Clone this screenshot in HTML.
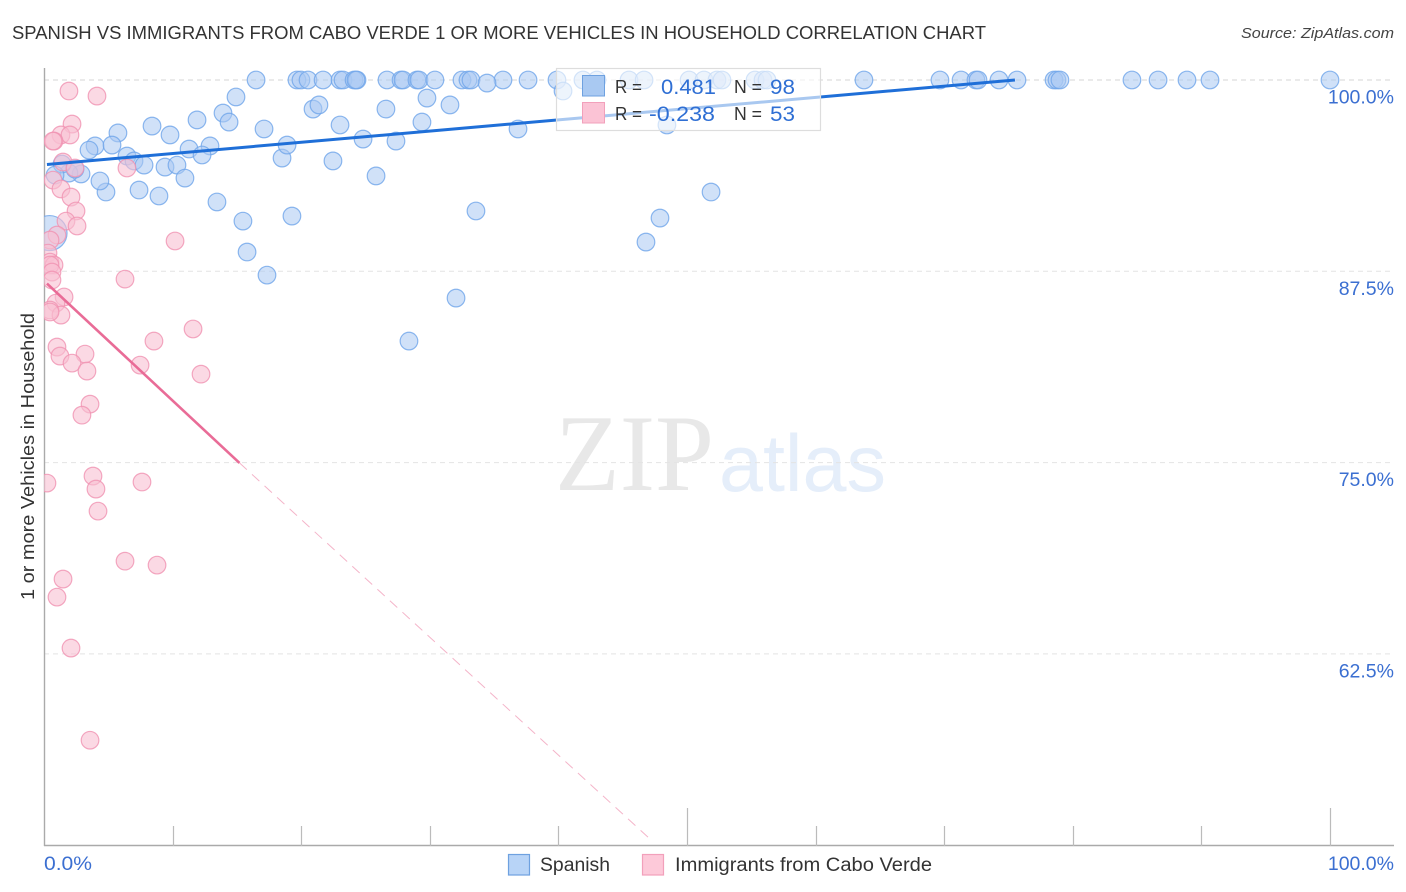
<!DOCTYPE html>
<html><head><meta charset="utf-8"><title>Spanish vs Immigrants from Cabo Verde chart</title>
<style>
html,body{margin:0;padding:0;background:#fff;width:1406px;height:892px;overflow:hidden}
svg{display:block}
text{font-family:"Liberation Sans",sans-serif}
</style></head><body>
<svg id="chart" xmlns="http://www.w3.org/2000/svg" width="1406" height="892" viewBox="0 0 1406 892">
<defs><clipPath id="plot-clip"><rect x="44" y="60" width="1360" height="786"/></clipPath></defs>
<text x="12" y="39" font-size="18" fill="#333" textLength="974" lengthAdjust="spacingAndGlyphs">SPANISH VS IMMIGRANTS FROM CABO VERDE 1 OR MORE VEHICLES IN HOUSEHOLD CORRELATION CHART</text>
<text x="1394" y="38" font-size="15" font-style="italic" fill="#444" text-anchor="end" textLength="153" lengthAdjust="spacingAndGlyphs">Source: ZipAtlas.com</text>
<text x="555" y="490" font-size="109" fill="#e8e8e8" textLength="159" lengthAdjust="spacingAndGlyphs" style="font-family:'Liberation Serif',serif">ZIP</text>
<text x="719" y="491" font-size="81" fill="#e5eefa" textLength="167" lengthAdjust="spacingAndGlyphs">atlas</text>
<g id="grid"></g>
<g id="axes"></g>
<g id="points" clip-path="url(#plot-clip)"></g>
<g id="trends"></g>
<text transform="translate(34,456.5) rotate(-90)" font-size="18.5" fill="#333" text-anchor="middle" textLength="287" lengthAdjust="spacingAndGlyphs">1 or more Vehicles in Household</text>
<g>
<rect x="556.5" y="68.5" width="264" height="62" fill="#fff" fill-opacity="0.62" stroke="#ddd" stroke-width="1.2"/>
<rect x="582.5" y="75.5" width="22" height="20.5" fill="#a9c9f2" stroke="#6ea1e0" stroke-width="1"/>
<rect x="582.5" y="102.5" width="22" height="20.5" fill="#fbc3d5" stroke="#f2a0bb" stroke-width="1"/>
<text x="615" y="93" font-size="18" fill="#333" textLength="27" lengthAdjust="spacingAndGlyphs">R =</text>
<text x="661" y="94" font-size="21.5" fill="#2f6fd4" textLength="55" lengthAdjust="spacingAndGlyphs">0.481</text>
<text x="734" y="93" font-size="18" fill="#333" textLength="28" lengthAdjust="spacingAndGlyphs">N =</text>
<text x="770" y="94" font-size="21.5" fill="#2f6fd4" textLength="25" lengthAdjust="spacingAndGlyphs">98</text>
<text x="615" y="120" font-size="18" fill="#333" textLength="27" lengthAdjust="spacingAndGlyphs">R =</text>
<text x="649" y="121" font-size="21.5" fill="#2f6fd4" textLength="66" lengthAdjust="spacingAndGlyphs">-0.238</text>
<text x="734" y="120" font-size="18" fill="#333" textLength="28" lengthAdjust="spacingAndGlyphs">N =</text>
<text x="770" y="121" font-size="21.5" fill="#2f6fd4" textLength="25" lengthAdjust="spacingAndGlyphs">53</text>
</g>
<g>
<rect x="508.5" y="854.5" width="21" height="20.5" fill="#b8d4f7" stroke="#6ea1e0" stroke-width="1.2"/>
<text x="540" y="871" font-size="19" fill="#333" textLength="70" lengthAdjust="spacingAndGlyphs">Spanish</text>
<rect x="642.5" y="854.5" width="21" height="20.5" fill="#fdc9d9" stroke="#f2a0bb" stroke-width="1.2"/>
<text x="675" y="871" font-size="19" fill="#333" textLength="257" lengthAdjust="spacingAndGlyphs">Immigrants from Cabo Verde</text>
</g>
</svg>
<script>
const xTickValues = [0,10,20,30,40,50,60,70,80,90,100];
const xMajorTicks = [50,100];
const xLabelValues = ["0.0%","100.0%"];
const yTickValues = [100,87.5,75,62.5];
const yTickLabels = ["100.0%","87.5%","75.0%","62.5%"];

const spanishX = [16.49,19.67,19.98,20.53,21.70,23.02,23.25,24.11,24.34,24.26,26.67,27.76,27.92,29.00,29.16,30.40,32.50,32.97,33.20,35.69,37.64,39.89,41.91,43.00,45.49,46.66,50.16,51.32,52.33,52.72,55.29,55.91,56.22,63.76,69.67,71.31,72.47,72.63,74.26,75.66,78.54,78.77,79.00,84.60,86.63,88.88,90.67,100.0,
34.45,40.36,14.93,13.92,14.39,11.90,8.40,9.80,5.75,3.97,3.50,5.29,6.45,7.00,7.78,9.41,10.34,11.28,12.91,12.29,10.96,8.94,7.39,4.82,4.35,2.88,1.94,2.41,1.40,0.86,13.45,15.47,19.28,15.79,17.34,18.51,18.90,17.11,22.47,23.02,20.92,21.38,26.59,29.78,31.57,29.39,24.81,27.37,25.82,36.86,33.59,51.87,48.44,47.90,46.81,32.04,28.38];
const spanishY = [100,100,100,100,100,100,100,100,100,100,100,100,100,100,100,100,100,100,100,100,100,100,100,100,100,100,100,100,100,100,100,100,100,100,100,100,100,100,100,100,100,100,100,100,100,100,100,100,
99.80,99.28,98.89,97.84,97.25,97.39,96.99,96.41,96.54,95.69,95.42,95.75,95.03,94.71,94.44,94.31,94.44,95.49,95.69,95.10,93.59,92.42,92.81,92.68,93.40,93.86,93.92,94.18,94.51,93.79,92.03,90.78,91.11,88.76,87.25,94.90,95.75,96.80,94.71,97.06,98.10,98.37,98.10,98.82,98.37,97.25,96.14,96.01,93.73,96.80,91.44,92.68,97.06,90.98,89.41,85.75,82.94];
const spanishLargeX = [0.43];
const spanishLargeY = [90.0];

const caboVerdeX = [1.94,4.12,2.18,1.32,2.02,0.78,0.70,1.48,2.41,6.45,0.70,1.32,2.10,2.49,1.71,2.57,1.01,0.47,0.31,0.47,0.78,0.47,0.62,0.62,10.19,6.30,1.56,0.93,0.47,1.32,0.47,11.59,8.55,1.01,1.24,3.19,2.18,3.34,7.47,12.21,3.58,2.95,3.81,4.04,4.20,0.23,7.62,6.30,8.79,1.48,1.01,2.10,3.58];
const caboVerdeY = [99.28,98.95,97.12,96.41,96.41,96.01,96.01,94.64,94.25,94.25,93.46,92.88,92.35,91.44,90.78,90.46,89.87,89.54,88.69,88.10,87.91,87.91,87.45,86.93,89.48,86.99,85.82,85.42,84.97,84.64,84.84,83.73,82.94,82.55,81.96,82.09,81.50,80.98,81.37,80.78,78.82,78.10,74.12,73.27,71.83,73.66,73.73,68.56,68.30,67.39,66.21,62.88,56.86];

const spanishTrendX = [0.23,75.5];
const spanishTrendY = [94.48,100];
const caboVerdeTrendX = [0.23,15.2];
const caboVerdeTrendY = [86.7,74.98];
const caboVerdeDashX = [15.2,47.0];
const caboVerdeDashY = [74.98,50.5];

const NS = "http://www.w3.org/2000/svg";
function xScale(v){ return 44 + v * 12.86; }
function yScale(v){ return 80 + (100 - v) * 15.304; }
function mk(tag, attrs, parent){
  const el = document.createElementNS(NS, tag);
  for (const k in attrs) el.setAttribute(k, attrs[k]);
  parent.appendChild(el);
  return el;
}
const gridG = document.getElementById('grid');
const axesG = document.getElementById('axes');
const pointsG = document.getElementById('points');
const trendsG = document.getElementById('trends');

yTickValues.forEach(function(v, i){
  const y = yScale(v);
  const g = mk('line', {x1:44, x2:1394, y1:y, y2:y, stroke: i === 0 ? '#d4d4d4' : '#e4e4e4', 'stroke-width':1, 'stroke-dasharray':'5 4'}, gridG);
  
  
  const t = mk('text', {x:1394, y:y + 23.5, 'font-size':19.5, fill:'#3b6fd1', 'text-anchor':'end'}, axesG);
  t.textContent = yTickLabels[i];
  
  
});

const yAxis = mk('line', {x1:44.5, x2:44.5, y1:68, y2:846, stroke:'#aaa', 'stroke-width':1.4}, axesG);


const xAxis = mk('line', {x1:44, x2:1394, y1:845.5, y2:845.5, stroke:'#aaa', 'stroke-width':1.4}, axesG);



xTickValues.forEach(function(v){
  if (v === 0) return;
  const x = Math.round(xScale(v)) + 0.5;
  const top = xMajorTicks.indexOf(v) >= 0 ? 808 : 826;
  const tk = mk('line', {x1:x, x2:x, y1:top, y2:846, stroke:'#bbb', 'stroke-width':1.2}, axesG);
  
  
});
const xl0 = mk('text', {x:xScale(0), y:870, 'font-size':19.5, fill:'#3b6fd1', textLength:48, lengthAdjust:'spacingAndGlyphs'}, axesG);
xl0.textContent = xLabelValues[0];


const xl1 = mk('text', {x:1394, y:870, 'font-size':19.5, fill:'#3b6fd1', 'text-anchor':'end'}, axesG);
xl1.textContent = xLabelValues[1];



spanishX.forEach(function(v, i){
  const c = mk('circle', {cx:xScale(v), cy:yScale(spanishY[i]), r:8.8, fill:'#a9c9f2', 'fill-opacity':0.55, stroke:'#6fa5ea', 'stroke-opacity':0.8, 'stroke-width':1.2}, pointsG);
  
  
});
spanishLargeX.forEach(function(v, i){
  const c = mk('circle', {cx:xScale(v), cy:yScale(spanishLargeY[i]), r:17.5, fill:'#a9c9f2', 'fill-opacity':0.55, stroke:'#6fa5ea', 'stroke-opacity':0.8, 'stroke-width':1.2}, pointsG);
  
  
});
caboVerdeX.forEach(function(v, i){
  const c = mk('circle', {cx:xScale(v), cy:yScale(caboVerdeY[i]), r:8.8, fill:'#f9bfd2', 'fill-opacity':0.6, stroke:'#f092b2', 'stroke-opacity':0.8, 'stroke-width':1.2}, pointsG);
  
  
});

const tb = mk('line', {x1:xScale(spanishTrendX[0]), y1:yScale(spanishTrendY[0]), x2:xScale(spanishTrendX[1]), y2:yScale(spanishTrendY[1]), stroke:'#1f6fd8', 'stroke-width':3}, trendsG);


const tp = mk('line', {x1:xScale(caboVerdeTrendX[0]), y1:yScale(caboVerdeTrendY[0]), x2:xScale(caboVerdeTrendX[1]), y2:yScale(caboVerdeTrendY[1]), stroke:'#e96c97', 'stroke-width':2.6}, trendsG);


const td = mk('line', {x1:xScale(caboVerdeDashX[0]), y1:yScale(caboVerdeDashY[0]), x2:xScale(caboVerdeDashX[1]), y2:yScale(caboVerdeDashY[1]), stroke:'#f4b4c9', 'stroke-width':1, 'stroke-dasharray':'10 7'}, trendsG);


</script>
</body></html>
